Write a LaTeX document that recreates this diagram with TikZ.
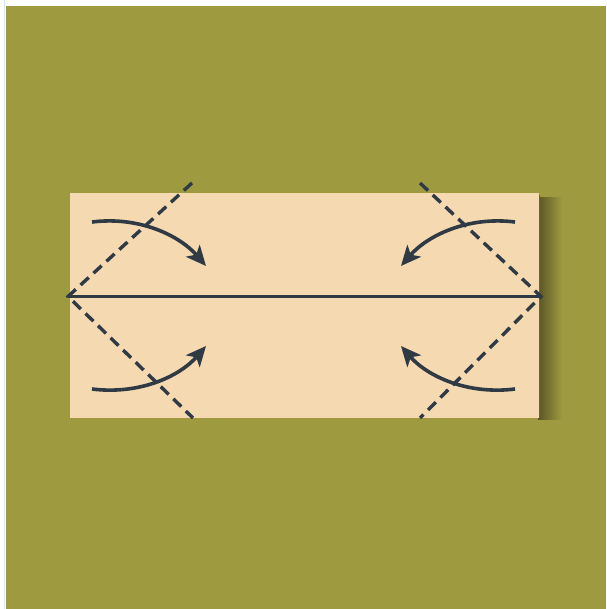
\documentclass[tikz,border=0pt]{standalone}
\usetikzlibrary{arrows.meta}
\definecolor{bgolive}{HTML}{9D9A40}
\definecolor{paperc}{HTML}{F5D9B0}
\definecolor{inkc}{HTML}{2F3A45}
\definecolor{shadowc}{HTML}{5A5524}
\definecolor{gridc}{HTML}{D6E6F5}
\tikzset{
  ink/.style={draw=inkc, line width=3.4pt},
  foldline/.style={draw=inkc, line width=3.4pt, dash pattern=on 11pt off 6.5pt},
  foldarrow/.style={draw=inkc, line width=3.6pt, -{Stealth[length=20pt,width=18pt,inset=5pt]}},
}
\begin{document}
\begin{tikzpicture}[x=1pt,y=-1pt]
\useasboundingbox (0,0) rectangle (606,609);
\fill[white] (0,0) rectangle (606,609);
\draw[gridc, line width=1pt] (4.5,0) -- (4.5,609);
\fill[bgolive] (6,6) rectangle (606,609);
% shadow
\shade[left color=shadowc, right color=bgolive] (538,198) rectangle (562,419);
% paper
\fill[paperc] (70,193) rectangle (539,418);
\draw[draw=brown!70!black, line width=0.8pt] (539,195) -- (539,418);
% key points
\coordinate (L) at (68,296.5);
\coordinate (R) at (541,296.5);
\coordinate (TL) at (192,183);
\coordinate (BL) at (193,418);
\coordinate (TR) at (420,183);
\coordinate (BR) at (420,418);
\draw[ink] (L) -- (R);
\draw[foldline] (TL) -- (L) -- (BL);
\draw[foldline] (TR) -- (R) -- (BR);
% arrows
\coordinate (a1s) at (92,222);  \coordinate (a1e) at (206,266);
\coordinate (a2s) at (515,222); \coordinate (a2e) at (401,266);
\coordinate (a3s) at (92,389);  \coordinate (a3e) at (206,346);
\coordinate (a4s) at (515,389); \coordinate (a4e) at (401,346);
\draw[foldarrow] (a1s) .. controls (140,216) and (180,236) .. (a1e);
\draw[foldarrow] (a2s) .. controls (467,216) and (427,236) .. (a2e);
\draw[foldarrow] (a3s) .. controls (140,395) and (180,376) .. (a3e);
\draw[foldarrow] (a4s) .. controls (467,395) and (427,376) .. (a4e);
\end{tikzpicture}
\end{document}
